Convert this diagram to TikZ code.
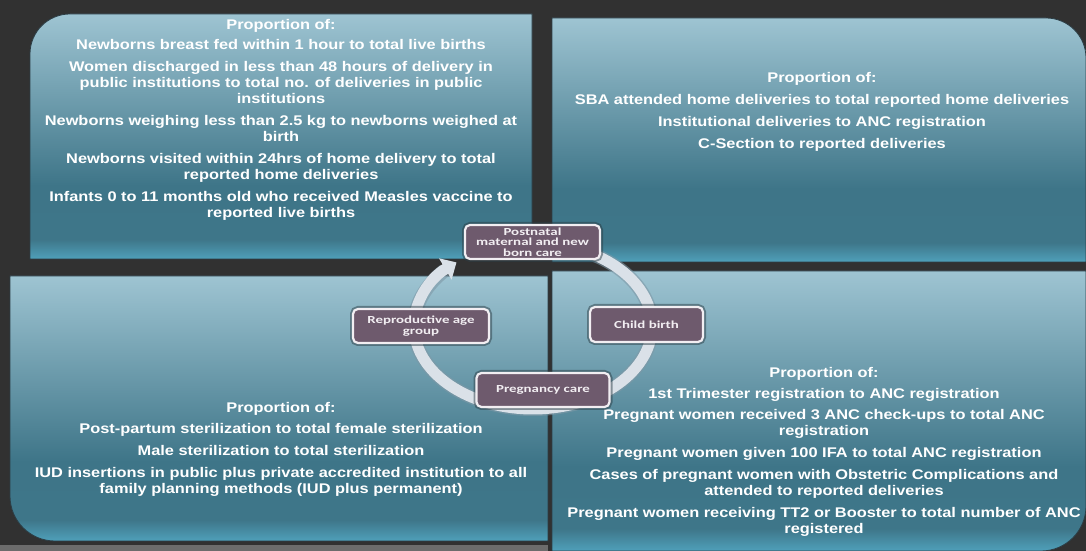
\documentclass[tikz,border=0pt]{standalone}
\usepackage{fontspec}
\setmainfont{Liberation Sans}
\newfontfamily\txtfont[FakeStretch=1.17]{Liberation Sans}
\newfontfamily\boxfont[FakeStretch=1.38]{Carlito}
\usetikzlibrary{arrows.meta}
\definecolor{bg}{HTML}{313131}
\definecolor{ptop}{HTML}{9EC4D2}
\definecolor{pmid}{HTML}{3E7588}
\definecolor{pdark}{HTML}{3E7689}
\definecolor{pbot}{HTML}{4FA0BA}
\definecolor{paneledge}{HTML}{2C3D45}
\definecolor{boxfill}{HTML}{6E5A6D}
\definecolor{boxedge}{HTML}{F2EEF2}
\definecolor{ringcol}{HTML}{DAE1E8}
\definecolor{ringedge}{HTML}{7E98A6}
\definecolor{stripcol}{HTML}{6C6C6C}
\pgfdeclareverticalshading{panelshade}{100bp}{color(0bp)=(pbot); color(25bp)=(pbot); color(29bp)=(pdark); color(40bp)=(pmid); color(75bp)=(ptop); color(100bp)=(ptop)}
\begin{document}
\begin{tikzpicture}[x=1pt,y=1pt,
  panel/.style={shading=panelshade, draw=paneledge, line width=0.8pt},
  paneltext/.style={text=white, font=\txtfont\bfseries\fontsize{14}{16}\selectfont, align=center, anchor=north, inner sep=0pt},
  stage/.style={fill=boxfill, draw=boxedge, line width=2.2pt, rounded corners=5pt, text=boxedge,
    font=\boxfont\bfseries\fontsize{10.8}{10.6}\selectfont, align=center, inner sep=1pt,
    preaction={draw=paneledge, draw opacity=0.5, line width=6pt}},
  ringstyle/.style={draw=ringcol, line width=11pt, -{Triangle[width=24pt,length=13pt]}}
]
\useasboundingbox (0,0) rectangle (1086,551);
\fill[bg] (0,0) rectangle (1086,551);
\fill[stripcol] (0,0) rectangle (548,6);
% panels
\path[panel] (532,292) -- (30,292) -- (30,497) arc[start angle=180,end angle=90,radius=40] -- (532,537) -- cycle;
\path[panel] (552,289) -- (552,533) -- (1046,533) arc[start angle=90,end angle=0,radius=40] -- (1086,289) -- cycle;
\path[panel] (548,275) -- (10,275) -- (10,55) arc[start angle=180,end angle=270,radius=45] -- (548,10) -- cycle;
\path[panel] (552,280) -- (1086,280) -- (1086,45) arc[start angle=0,end angle=-90,radius=45] -- (552,0) -- cycle;
% panel texts
\node[paneltext] (tltext) at (281,532) {Proportion of:\\[4pt]
Newborns breast fed within 1 hour to total live births\\[6pt]
Women discharged in less than 48 hours of delivery in\\
public institutions to total no. of deliveries in public\\
institutions\\[6pt]
Newborns weighing less than 2.5 kg to newborns weighed at\\
birth\\[6pt]
Newborns visited within 24hrs of home delivery to total\\
reported home deliveries\\[6pt]
Infants 0 to 11 months old who received Measles vaccine to\\
reported live births};
\node[paneltext] (trtext) at (822,479) {Proportion of:\\[6pt]
SBA attended home deliveries to total reported home deliveries\\[6pt]
Institutional deliveries to ANC registration\\[6pt]
C-Section to reported deliveries};
\node[paneltext] (bltext) at (281,149) {Proportion of:\\[5pt]
Post-partum sterilization to total female sterilization\\[6pt]
Male sterilization to total sterilization\\[6pt]
IUD insertions in public plus private accredited institution to all\\
family planning methods (IUD plus permanent)};
\node[paneltext] (brtext) at (824,184) {Proportion of:\\[5pt]
1st Trimester registration to ANC registration\\[5pt]
Pregnant women received 3 ANC check-ups to total ANC\\
registration\\[6pt]
Pregnant women given 100 IFA to total ANC registration\\[6pt]
Cases of pregnant women with Obstetric Complications and\\
attended to reported deliveries\\[6pt]
Pregnant women receiving TT2 or Booster to total number of ANC\\
registered};
% cycle ring
\coordinate (ringstart) at ({533+119*cos(60)},{225+83*sin(60)});
\draw[draw=ringedge, line width=14pt, draw opacity=0.6] (ringstart) arc[start angle=60,end angle=-222,x radius=119,y radius=83];
\draw[ringstyle] (ringstart) arc[start angle=60,end angle=-230,x radius=119,y radius=83];
% stage boxes
\node[stage, minimum width=135pt, minimum height=34pt] (post) at (532.5,309) {Postnatal\\maternal and new\\born care};
\node[stage, minimum width=113pt, minimum height=35pt] (child) at (646.5,226.5) {Child birth};
\node[stage, minimum width=133pt, minimum height=34pt] (preg) at (543,161) {Pregnancy care};
\node[stage, minimum width=136pt, minimum height=34pt] (repro) at (421,225) {Reproductive age\\group};
\end{tikzpicture}
\end{document}
